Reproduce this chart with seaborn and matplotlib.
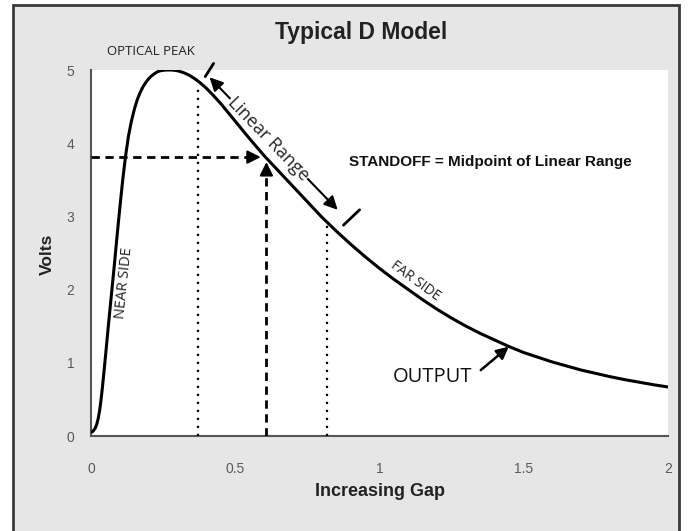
import matplotlib.pyplot as plt
import seaborn as sns
from matplotlib.patches import Rectangle

# curve
gap = [0, 0.005, 0.01, 0.015, 0.02, 0.025, 0.03, 0.035, 0.04, 0.05, 0.06, 0.07,
       0.08, 0.09, 0.10, 0.11, 0.12, 0.13, 0.14, 0.15, 0.16, 0.17, 0.18, 0.19,
       0.20, 0.21, 0.22, 0.23, 0.24, 0.26, 0.28, 0.30, 0.32, 0.34, 0.36, 0.38,
       0.40, 0.42, 0.45, 0.50, 0.55, 0.60, 0.65, 0.70, 0.75, 0.80, 0.85, 0.90,
       0.95, 1.00, 1.05, 1.10, 1.15, 1.20, 1.25, 1.30, 1.35, 1.40, 1.45, 1.50,
       1.55, 1.60, 1.65, 1.70, 1.75, 1.80, 1.85, 1.90, 1.95, 2.00]
volts = [0.05, 0.06, 0.08, 0.11, 0.16, 0.24, 0.35, 0.50, 0.68, 1.08, 1.50, 1.90,
         2.30, 2.72, 3.12, 3.50, 3.83, 4.10, 4.30, 4.46, 4.59, 4.69, 4.77, 4.83,
         4.88, 4.92, 4.95, 4.975, 4.99, 5.00, 5.00, 4.99, 4.965, 4.93, 4.88, 4.82,
         4.75, 4.67, 4.54, 4.30, 4.06, 3.83, 3.62, 3.41, 3.20, 2.99, 2.80, 2.62,
         2.45, 2.29, 2.14, 2.00, 1.86, 1.73, 1.61, 1.50, 1.40, 1.31, 1.22, 1.14,
         1.075, 1.01, 0.955, 0.90, 0.855, 0.81, 0.77, 0.735, 0.70, 0.67]

x_ticks = [0, 0.5, 1, 1.5, 2]
x_tick_labels = ["0", "0.5", "1", "1.5", "2"]
y_ticks = [0, 1, 2, 3, 4, 5]

# linear range markers
range_gap = [0.372, 0.818]
range_volts = [4.78, 2.91]
standoff_gap = 0.608
standoff_volts = 3.81

sns.set_style("white")
plt.rcParams['font.family'] = ['Liberation Sans', 'DejaVu Sans']
note_font = ['Open Sans', 'DejaVu Sans']

fig = plt.figure(figsize=(6.89, 5.31), dpi=100)
fig.patch.set_facecolor('white')
fig.add_artist(Rectangle((13 / 689, -0.05), (679 - 13) / 689, 1.05 - 5 / 531,
                         transform=fig.transFigure, facecolor='#e6e6e6',
                         edgecolor='#3a3a3a', lw=2, zorder=-10))

ax = fig.add_axes([91 / 689, 1 - 436 / 531, 577 / 689, 366 / 531])
ax.set_facecolor('white')

sns.lineplot(x=gap, y=volts, ax=ax, color='black', lw=2.2, zorder=4)

ax.set_xlim(0, 2)
ax.set_ylim(0, 5)
ax.set_xticks(x_ticks)
ax.set_xticklabels(x_tick_labels)
ax.set_yticks(y_ticks)
for s in ['top', 'right']:
    ax.spines[s].set_visible(False)
for s in ['left', 'bottom']:
    ax.spines[s].set_color('#555555')
    ax.spines[s].set_linewidth(1.5)
ax.tick_params(length=0, labelsize=10, labelcolor='#5a5a5a')
ax.tick_params(axis='x', pad=19)
ax.tick_params(axis='y', pad=12)

# dotted limits of the linear range
ax.vlines(range_gap, 0, range_volts, colors='black', lw=1.6,
          linestyles=(0, (1, 2.6)), zorder=3)

# dashed standoff lines with arrow heads
ax.plot([0, standoff_gap - 0.065], [standoff_volts, standoff_volts],
        color='black', lw=2, ls=(0, (3, 2)), zorder=3)
ax.annotate('', xy=(standoff_gap - 0.01, standoff_volts),
            xytext=(standoff_gap - 0.07, standoff_volts),
            arrowprops=dict(arrowstyle='-|>', color='black', lw=1.5, mutation_scale=20),
            zorder=5)
ax.plot([standoff_gap, standoff_gap], [0, standoff_volts - 0.25],
        color='black', lw=2, ls=(0, (3, 2)), zorder=3)
ax.annotate('', xy=(standoff_gap, standoff_volts - 0.03),
            xytext=(standoff_gap, standoff_volts - 0.27),
            arrowprops=dict(arrowstyle='-|>', color='black', lw=1.5, mutation_scale=20),
            zorder=5)

# linear range double arrow
ax.annotate('', xy=(0.411, 4.90), xytext=(0.855, 3.09),
            arrowprops=dict(arrowstyle='<|-|>', color='black', lw=1.5, mutation_scale=20,
                            shrinkA=0, shrinkB=0), zorder=2)
ax.plot([0.396, 0.425], [4.91, 5.09], color='black', lw=2, clip_on=False)
ax.plot([0.875, 0.931], [2.88, 3.09], color='black', lw=2, clip_on=False)
ax.text(0.616, 4.06, 'Linear Range', rotation=-46, rotation_mode='anchor',
        ha='center', va='center', fontsize=13, family=note_font, zorder=3,
        bbox=dict(facecolor='white', edgecolor='none', pad=0.5))

# notes
ax.text(0.209, 5.25, 'OPTICAL PEAK', ha='center', va='center', fontsize=9.5,
        family=note_font, color='#222222', clip_on=False)
ax.text(0.116, 2.09, 'NEAR SIDE', rotation=84, ha='center', va='center',
        fontsize=10.5, family=note_font, color='#222222')
ax.text(1.125, 2.12, 'FAR SIDE', rotation=-36, ha='center', va='center',
        fontsize=10, family=note_font, color='#222222')
ax.text(1.385, 3.74, 'STANDOFF = Midpoint of Linear Range', ha='center', va='center',
        fontsize=11, fontweight='bold', color='#111111')
ax.text(1.184, 0.81, 'OUTPUT', ha='center', va='center', fontsize=14.5,
        family=note_font, color='#111111')
ax.annotate('', xy=(1.448, 1.22), xytext=(1.351, 0.90),
            arrowprops=dict(arrowstyle='-|>', color='black', lw=1.8, mutation_scale=18,
                            shrinkA=0, shrinkB=0), zorder=5)

fig.text(361 / 689, 1 - 33 / 531, 'Typical D Model', ha='center', va='center',
         fontsize=16.5, fontweight='bold', color='#222222')
fig.text(47 / 689, 1 - 254 / 531, 'Volts', ha='center', va='center', rotation=90,
         fontsize=12.5, fontweight='bold', color='#222222')
fig.text(380 / 689, 1 - 492 / 531, 'Increasing Gap', ha='center', va='center',
         fontsize=13, fontweight='bold', color='#222222')

fig.savefig('out.png', dpi=100)
